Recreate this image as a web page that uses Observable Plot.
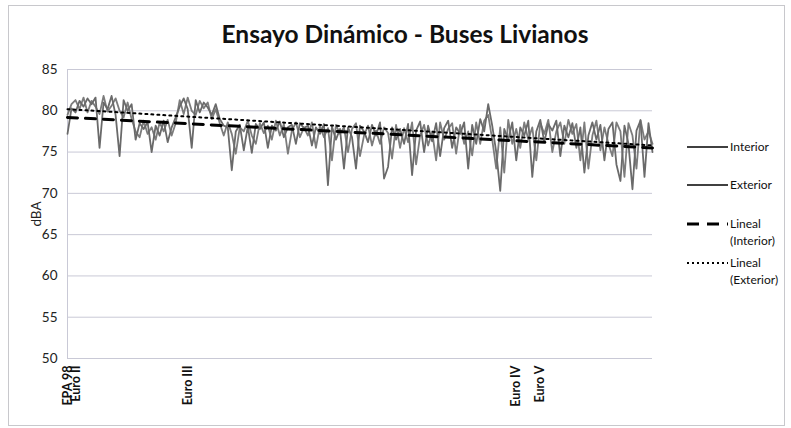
<!DOCTYPE html>
<html>
<head>
<meta charset="utf-8">
<script src="https://cdn.jsdelivr.net/npm/d3@7"></script>
<script src="https://cdn.jsdelivr.net/npm/@observablehq/plot@0.6"></script>
<style>
  body { margin: 0; background: #fff; }
  #wrap { position: relative; width: 791px; height: 428px; font-family: Lato, "Open Sans", sans-serif; }
  #frame { position: absolute; left: 8px; top: 5px; width: 777px; height: 421px; border: 1px solid #c8c8cc; box-sizing: border-box; pointer-events: none; }
  #title { position: absolute; left: 0; width: 810px; top: 19px; text-align: center; font-weight: 700; font-size: 24.5px; color: #111; }
  #legend { position: absolute; left: 686px; top: 138px; font-size: 12px; color: #111; }
  .item { display: flex; align-items: flex-start; margin-bottom: 0; position: absolute; left: 0; white-space: nowrap; }
  .item svg { flex: none; margin-top: 2px; }
  .item span { line-height: 17px; margin-left: 2px; }
</style>
</head>
<body>
<div id="wrap">
  <div id="frame"></div>
  <div id="title">Ensayo Dinámico - Buses Livianos</div>
  <div id="legend"></div>
</div>
<script>
const interior = [77.2,80.3,79.8,81.2,80.5,81.5,80.8,81.6,75.5,81.0,80.2,81.8,79.5,74.5,81.3,80.0,80.8,76.5,78.5,77.8,
78.6,75.0,78.2,77.0,78.8,76.2,78.0,79.2,80.5,81.5,80.2,75.5,81.3,79.8,81.0,80.4,79.5,80.8,79.0,78.2,
78.0,72.8,77.5,78.3,75.2,78.1,74.9,78.4,77.8,78.6,75.5,78.2,77.6,78.7,76.8,78.0,78.3,76.0,78.5,77.9,
78.2,75.8,78.0,77.2,78.4,71.0,78.1,76.5,77.8,73.0,78.0,76.8,73.0,78.2,77.5,76.2,78.3,77.0,78.6,71.8,
73.2,78.0,76.5,77.8,76.0,78.4,72.2,77.6,78.7,75.0,78.2,76.3,78.5,74.5,77.9,78.8,75.5,78.0,77.2,78.6,
73.0,78.3,76.0,79.0,77.5,80.8,78.2,75.0,70.3,77.8,76.5,78.6,74.0,78.0,77.0,78.8,72.0,77.5,78.9,76.2,
78.4,77.6,78.8,74.5,78.2,76.8,78.5,75.5,78.0,72.5,77.0,78.6,76.5,78.3,74.0,77.8,78.6,73.5,71.5,78.2,
76.0,70.5,77.6,78.8,72.0,78.5,75.0];
const exterior = [79.5,80.8,81.3,80.2,81.6,79.8,81.2,80.5,79.6,81.8,79.9,80.6,81.5,80.0,79.2,81.0,79.0,77.5,76.8,78.8,
77.2,78.0,76.5,78.6,77.5,78.9,77.0,78.5,81.3,79.6,81.6,80.0,79.5,81.2,80.3,81.0,79.0,80.2,78.5,77.0,
78.6,77.2,74.8,78.0,77.5,78.8,77.0,76.0,78.5,77.3,78.2,76.5,78.8,77.0,78.4,74.8,77.6,78.6,76.8,78.0,
77.0,78.6,75.5,78.2,76.8,77.9,74.0,78.3,77.2,78.0,75.0,77.8,78.5,74.5,77.0,78.2,75.8,77.6,76.0,78.0,
77.3,74.2,78.3,75.5,77.9,76.2,78.6,73.5,77.0,78.3,75.8,77.5,74.0,78.6,76.5,77.8,78.5,74.8,78.3,76.0,
77.5,74.6,78.6,76.0,78.8,79.5,76.5,73.0,78.0,72.5,78.9,76.0,77.8,75.5,78.6,76.5,78.0,74.0,78.5,77.2,
78.9,75.0,77.5,78.6,76.0,78.9,77.2,78.4,74.0,78.6,73.0,77.0,78.8,75.2,78.0,76.0,74.5,78.6,77.5,72.0,
78.5,77.0,73.0,78.9,76.5,77.5,76.0];
// linear trend end values (start, end)
const trendInterior = [79.2, 75.5];
const trendExterior = [80.2, 75.8];
const tickIndex = [0, 2, 30, 112, 118];
const tickLabels = ["EPA 98", "Euro II", "Euro III", "Euro IV", "Euro V"];
const yTicks = [50, 55, 60, 65, 70, 75, 80, 85];

const n = interior.length;
const dInt = interior.map((v, i) => ({i, v}));
const dExt = exterior.map((v, i) => ({i, v}));
const tInt = [{i: 0, v: trendInterior[0]}, {i: n - 1, v: trendInterior[1]}];
const tExt = [{i: 0, v: trendExterior[0]}, {i: n - 1, v: trendExterior[1]}];
const labelOf = new Map(tickIndex.map((t, k) => [t, tickLabels[k]]));

const chart = Plot.plot({
  width: 791, height: 428,
  marginTop: 69, marginBottom: 70, marginLeft: 67, marginRight: 139,
  style: {fontFamily: "Lato, 'Open Sans', sans-serif", background: "transparent"},
  x: {domain: [0, n - 1]},
  y: {domain: [50, 85]},
  marks: [
    Plot.gridY(yTicks, {stroke: "#c9c9d6", strokeOpacity: 1, strokeWidth: 1}),
    Plot.ruleX([0], {stroke: "#c9c9d6"}),
    Plot.axisY(yTicks, {tickSize: 0, tickPadding: 10, fontSize: 13.5, fill: "#222", label: "dBA", labelAnchor: "center", labelArrow: "none", labelOffset: 36}),
    Plot.axisX(tickIndex, {tickSize: 0, tickPadding: 7, tickRotate: -90, fontSize: 12.5, fontWeight: "bold", fill: "#111", tickFormat: d => labelOf.get(d), label: null}),
    Plot.line(dExt, {x: "i", y: "v", stroke: "#7c7c7c", strokeWidth: 1.8}),
    Plot.line(dInt, {x: "i", y: "v", stroke: "#6a6a6a", strokeWidth: 1.8}),
    Plot.line(tInt, {x: "i", y: "v", stroke: "#000", strokeWidth: 3, strokeDasharray: "10,8"}),
    Plot.line(tExt, {x: "i", y: "v", stroke: "#000", strokeWidth: 2, strokeDasharray: "2,4"})
  ]
});
chart.style.position = "absolute";
chart.style.left = "0";
chart.style.top = "0";
document.getElementById("wrap").appendChild(chart);

// legend
const legendItems = [
  {label: "Interior", dash: null, w: 1.5, top: 0},
  {label: "Exterior", dash: null, w: 1.5, top: 38},
  {label: "Lineal<br>(Interior)", dash: "12,8", w: 3, top: 77},
  {label: "Lineal<br>(Exterior)", dash: "2,3", w: 2, top: 116}
];
const leg = document.getElementById("legend");
for (const it of legendItems) {
  const div = document.createElement("div");
  div.className = "item";
  div.style.top = it.top + "px";
  div.innerHTML = `<svg width="42" height="14"><line x1="1" y1="7" x2="42" y2="7" stroke="#000" stroke-width="${it.w}" ${it.dash ? `stroke-dasharray="${it.dash}"` : ""}/></svg><span>${it.label}</span>`;
  leg.appendChild(div);
}
</script>
</body>
</html>
